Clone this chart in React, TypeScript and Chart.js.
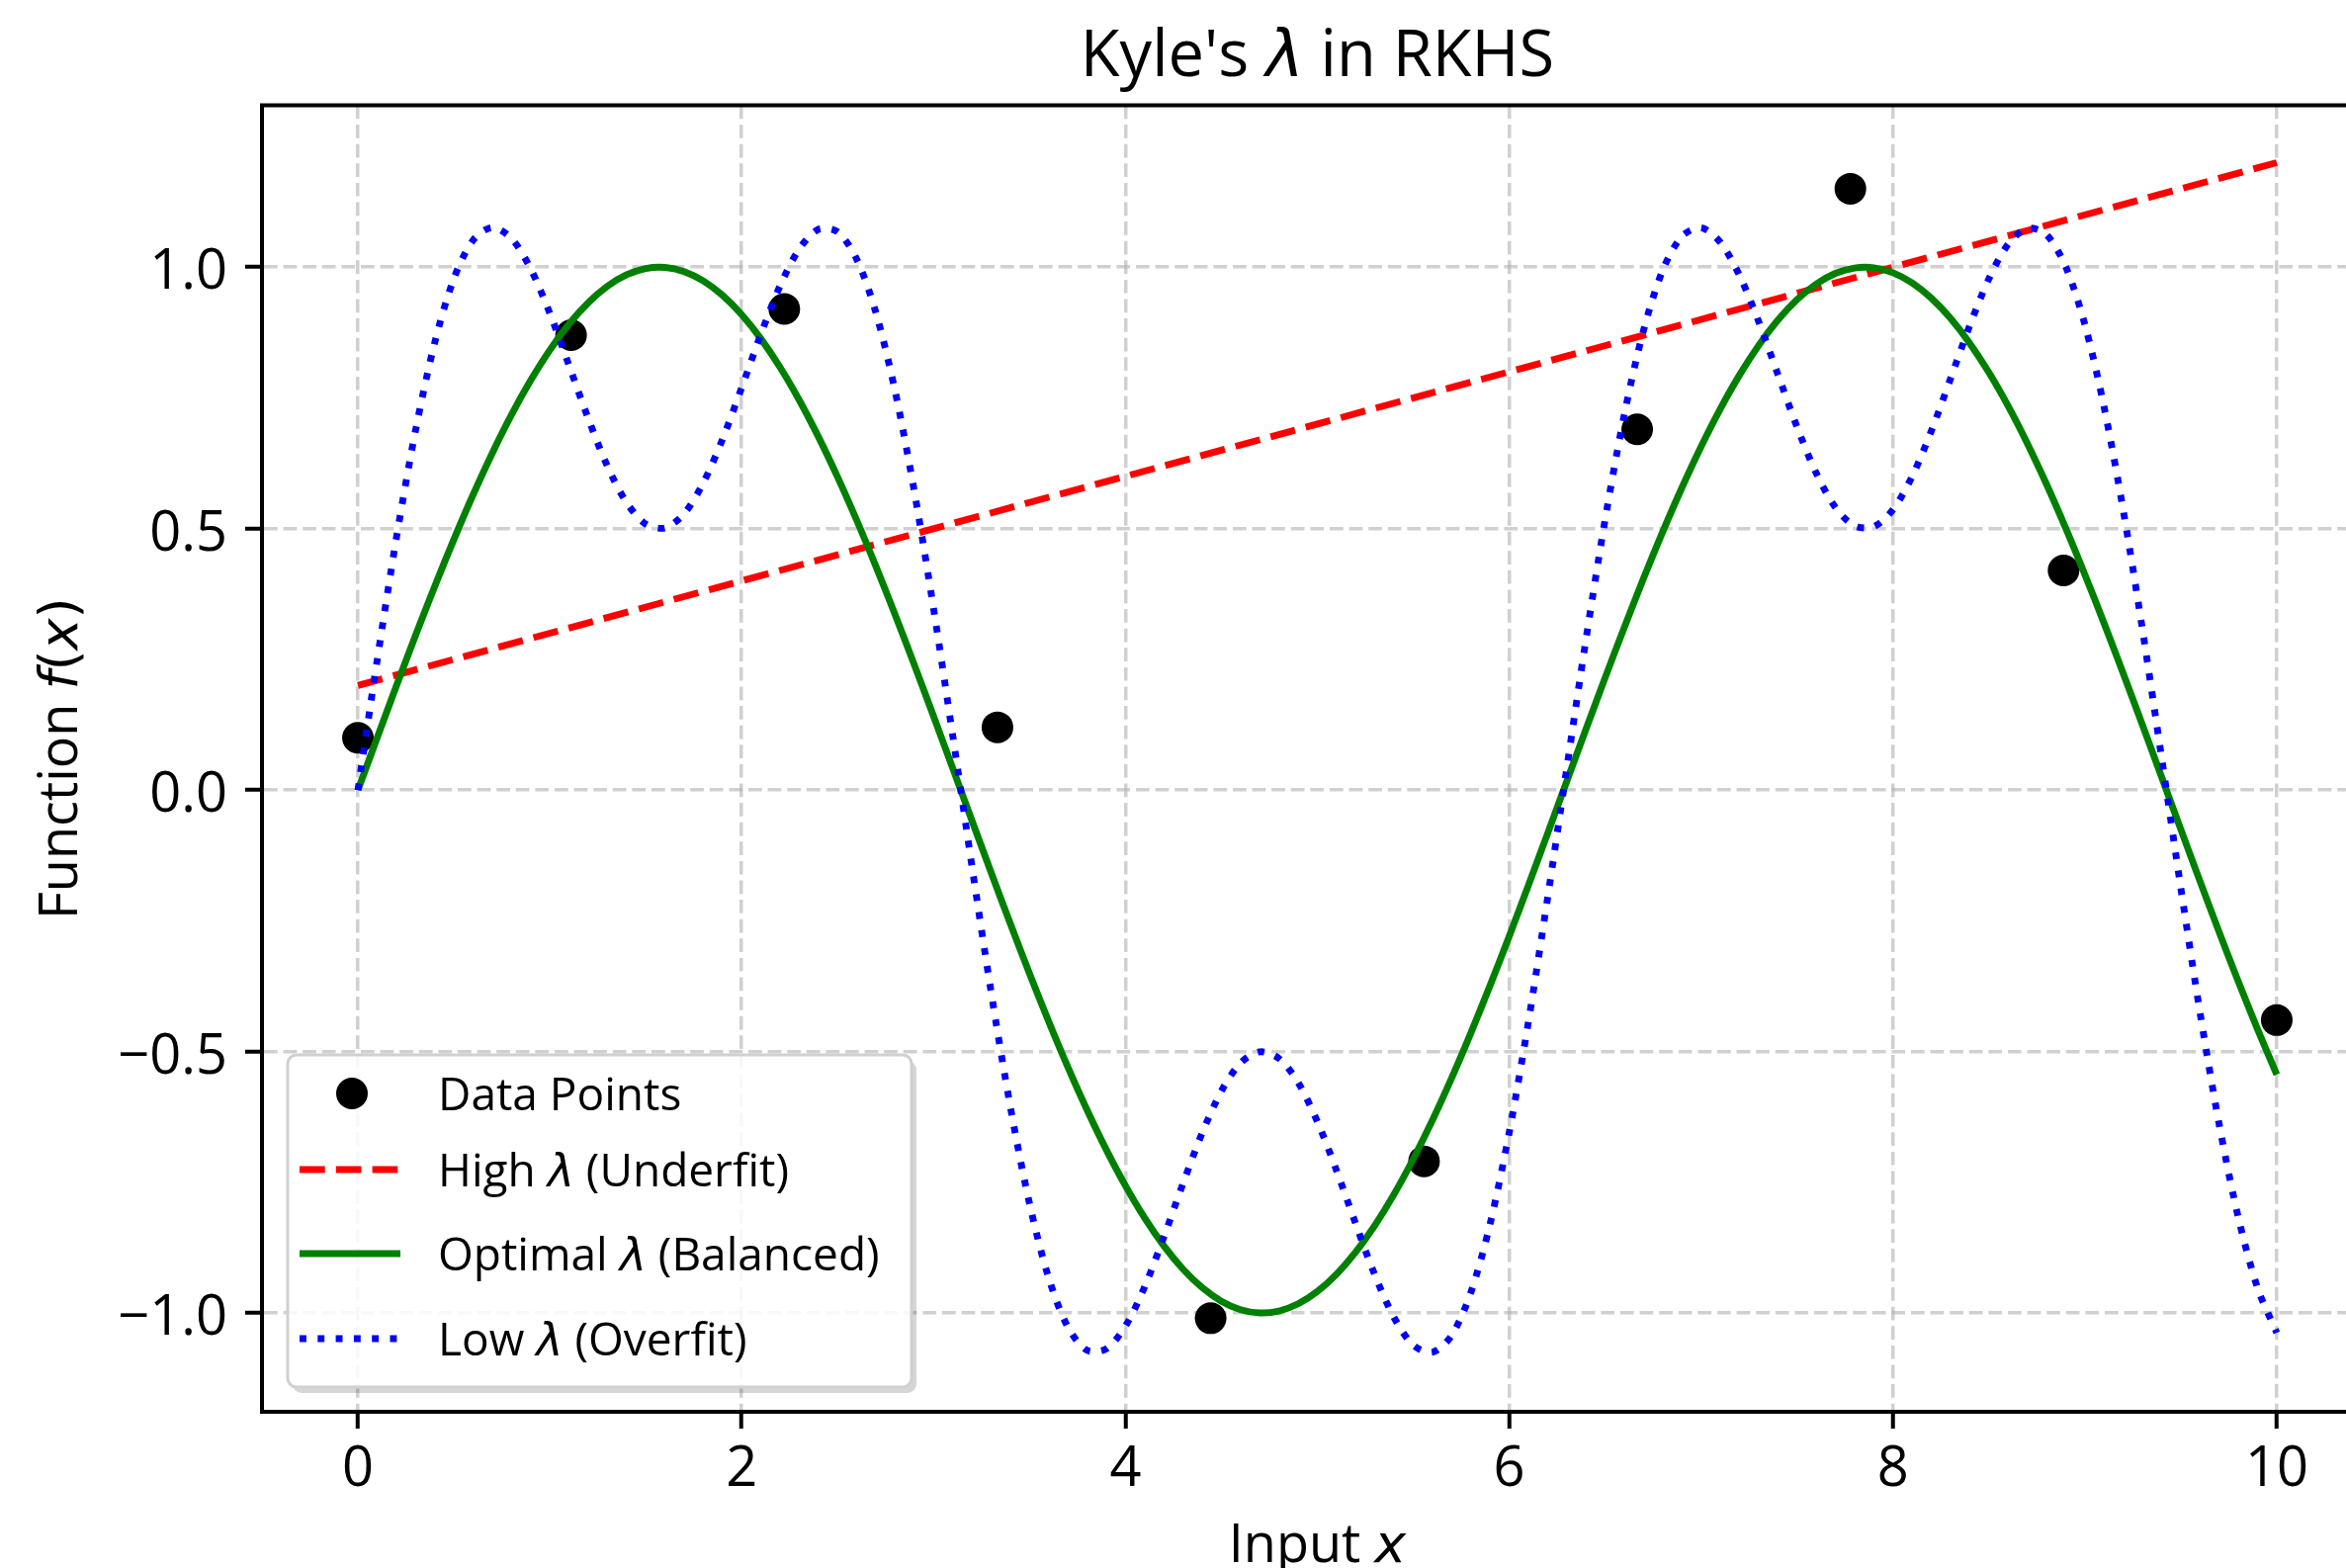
import React, { useEffect, useRef } from 'react';
import { Chart, registerables } from 'chart.js';

Chart.register(...registerables);

// ---------- data ----------
const TITLE = "Kyle's $λ$ in RKHS";
const X_TITLE = 'Input $x$';
const Y_TITLE = 'Function $f(x)$';

const xTickValues = [0, 2, 4, 6, 8, 10];
const yTickValues = [-1, -0.5, 0, 0.5, 1];
const X_MIN = -0.5;
const X_MAX = 10.5;
const Y_MIN = -1.189;
const Y_MAX = 1.3096;

const pointX = [0, 1.111, 2.222, 3.333, 4.444, 5.556, 6.667, 7.778, 8.889, 10];
const pointY = [0.1, 0.87, 0.92, 0.12, -1.01, -0.71, 0.69, 1.15, 0.42, -0.44];

const highX = [0, 10];
const highY = [0.2, 1.2];

const curveX = [
  0, 0.1, 0.2, 0.3, 0.4, 0.5, 0.6, 0.7, 0.8, 0.9,
  1, 1.1, 1.2, 1.3, 1.4, 1.5, 1.6, 1.7, 1.8, 1.9,
  2, 2.1, 2.2, 2.3, 2.4, 2.5, 2.6, 2.7, 2.8, 2.9,
  3, 3.1, 3.2, 3.3, 3.4, 3.5, 3.6, 3.7, 3.8, 3.9,
  4, 4.1, 4.2, 4.3, 4.4, 4.5, 4.6, 4.7, 4.8, 4.9,
  5, 5.1, 5.2, 5.3, 5.4, 5.5, 5.6, 5.7, 5.8, 5.9,
  6, 6.1, 6.2, 6.3, 6.4, 6.5, 6.6, 6.7, 6.8, 6.9,
  7, 7.1, 7.2, 7.3, 7.4, 7.5, 7.6, 7.7, 7.8, 7.9,
  8, 8.1, 8.2, 8.3, 8.4, 8.5, 8.6, 8.7, 8.8, 8.9,
  9, 9.1, 9.2, 9.3, 9.4, 9.5, 9.6, 9.7, 9.8, 9.9,
  10,
];

const optimalY = [
  0.0, 0.0998, 0.1987, 0.2955, 0.3894, 0.4794, 0.5646, 0.6442, 0.7174, 0.7833,
  0.8415, 0.8912, 0.932, 0.9636, 0.9854, 0.9975, 0.9996, 0.9917, 0.9738, 0.9463,
  0.9093, 0.8632, 0.8085, 0.7457, 0.6755, 0.5985, 0.5155, 0.4274, 0.335, 0.2392,
  0.1411, 0.0416, -0.0584, -0.1577, -0.2555, -0.3508, -0.4425, -0.5298, -0.6119, -0.6878,
  -0.7568, -0.8183, -0.8716, -0.9162, -0.9516, -0.9775, -0.9937, -0.9999, -0.9962, -0.9825,
  -0.9589, -0.9258, -0.8835, -0.8323, -0.7728, -0.7055, -0.6313, -0.5507, -0.4646, -0.3739,
  -0.2794, -0.1822, -0.0831, 0.0168, 0.1165, 0.2151, 0.3115, 0.4048, 0.4941, 0.5784,
  0.657, 0.729, 0.7937, 0.8504, 0.8987, 0.938, 0.9679, 0.9882, 0.9985, 0.9989,
  0.9894, 0.9699, 0.9407, 0.9022, 0.8546, 0.7985, 0.7344, 0.663, 0.5849, 0.501,
  0.4121, 0.3191, 0.2229, 0.1245, 0.0248, -0.0752, -0.1743, -0.2718, -0.3665, -0.4575,
  -0.544,
];

const lowY = [
  0.0, 0.2475, 0.4811, 0.6872, 0.8554, 0.9782, 1.0516, 1.0758, 1.0551, 0.997,
  0.912, 0.8124, 0.7109, 0.6195, 0.5498, 0.5087, 0.5014, 0.5286, 0.5876, 0.671,
  0.7696, 0.8716, 0.9643, 1.0349, 1.0723, 1.0675, 1.0148, 0.9124, 0.7623, 0.5706,
  0.3471, 0.1039, -0.1456, -0.3864, -0.6054, -0.7907, -0.933, -1.0271, -1.0715, -1.0687,
  -1.0251, -0.9499, -0.8547, -0.7524, -0.6556, -0.5757, -0.5218, -0.5004, -0.5132, -0.5594,
  -0.6339, -0.7275, -0.8295, -0.9277, -1.0089, -1.0615, -1.0751, -1.0427, -0.9609, -0.8302,
  -0.6549, -0.4434, -0.2066, 0.042, 0.2881, 0.5178, 0.7183, 0.8793, 0.994, 1.059,
  1.0753, 1.0477, 0.9843, 0.896, 0.7951, 0.6944, 0.6062, 0.5405, 0.5052, 0.5038,
  0.5364, 0.6, 0.6869, 0.7868, 0.8882, 0.978, 1.0438, 1.0746, 1.0621, 1.001,
  0.8903, 0.7328, 0.5351, 0.3074, 0.062, -0.1871, -0.4252, -0.6393, -0.8178, -0.9522,
  -1.038,
];

const seriesLabels = ['Data Points', 'High $λ$ (Underfit)', 'Optimal $λ$ (Balanced)', 'Low $λ$ (Overfit)'];
const seriesColors = ['#000000', '#ff0000', '#008000', '#0000ff'];

// ---------- layout / style ----------
const W = 2440;
const H = 1586;
const PLOT_TOP = 106.5;
const PLOT_BOTTOM = 1428;
const PLOT_LEFT = 265;
const PLOT_RIGHT = 2400;
const FONT = "'Open Sans', sans-serif";
const MATH = "'DejaVu Sans'";
const LW = 6.9;
const GRID = 'rgba(176,176,176,0.6)';

type Seg = { t: string; kind: 'text' | 'mi' | 'mo' };

function parseRich(s: string): Seg[] {
  const out: Seg[] = [];
  s.split('$').forEach((p, i) => {
    if (!p) return;
    if (i % 2 === 0) out.push({ t: p, kind: 'text' });
    else for (const ch of p) out.push({ t: ch, kind: /[A-Za-z\u0370-\u03FF]/.test(ch) ? 'mi' : 'mo' });
  });
  return out;
}

function fontFor(kind: Seg['kind'], size: number) {
  if (kind === 'text') return `${size}px ${FONT}`;
  if (kind === 'mi') return `italic ${size}px ${MATH}`;
  return `${size}px ${MATH}`;
}

function drawRich(ctx: CanvasRenderingContext2D, s: string, x: number, y: number, size: number, align: 'left' | 'center') {
  const segs = parseRich(s);
  const widths = segs.map((g) => {
    ctx.font = fontFor(g.kind, size);
    return ctx.measureText(g.t).width;
  });
  const total = widths.reduce((a, b) => a + b, 0);
  let cx = align === 'center' ? x - total / 2 : x;
  ctx.textAlign = 'left';
  ctx.textBaseline = 'alphabetic';
  segs.forEach((g, i) => {
    ctx.font = fontFor(g.kind, size);
    ctx.fillText(g.t, cx, y);
    cx += widths[i];
  });
}

function roundRectPath(ctx: CanvasRenderingContext2D, x: number, y: number, w: number, h: number, r: number) {
  ctx.moveTo(x + r, y);
  ctx.lineTo(x + w - r, y);
  ctx.arcTo(x + w, y, x + w, y + r, r);
  ctx.lineTo(x + w, y + h - r);
  ctx.arcTo(x + w, y + h, x + w - r, y + h, r);
  ctx.lineTo(x + r, y + h);
  ctx.arcTo(x, y + h, x, y + h - r, r);
  ctx.lineTo(x, y + r);
  ctx.arcTo(x, y, x + r, y, r);
  ctx.closePath();
}

const decorPlugin = {
  id: 'decor',
  afterDraw(chart: any) {
    const ctx: CanvasRenderingContext2D = chart.ctx;
    const a = chart.chartArea;
    ctx.save();
    // top / right spines
    ctx.strokeStyle = '#000';
    ctx.lineWidth = 4;
    ctx.setLineDash([]);
    ctx.beginPath();
    ctx.moveTo(a.left - 2, a.top);
    ctx.lineTo(a.right + 2, a.top);
    ctx.moveTo(a.right, a.top);
    ctx.lineTo(a.right, a.bottom);
    ctx.stroke();

    // titles
    ctx.fillStyle = '#000';
    const cx = (a.left + a.right) / 2;
    drawRich(ctx, TITLE, cx, 77, 65, 'center');
    drawRich(ctx, X_TITLE, cx, 1580, 54, 'center');
    ctx.save();
    ctx.translate(78, (a.top + a.bottom) / 2);
    ctx.rotate(-Math.PI / 2);
    drawRich(ctx, Y_TITLE, 0, 0, 54, 'center');
    ctx.restore();

    // legend
    const bx = 291, by = 1067, bw = 631, bh = 336, r = 9;
    ctx.save();
    ctx.beginPath();
    ctx.rect(0, 0, W, H);
    roundRectPath(ctx, bx, by, bw, bh, r);
    ctx.clip('evenodd');
    ctx.fillStyle = 'rgba(0,0,0,0.16)';
    ctx.beginPath();
    roundRectPath(ctx, bx + 5, by + 6, bw, bh, r);
    ctx.fill();
    ctx.restore();

    ctx.beginPath();
    roundRectPath(ctx, bx, by, bw, bh, r);
    ctx.fillStyle = 'rgba(255,255,255,0.85)';
    ctx.fill();
    ctx.strokeStyle = '#d0d0d0';
    ctx.lineWidth = 3;
    ctx.stroke();

    const rows = [1106, 1183, 1268, 1354];
    const ds = chart.data.datasets;
    ds.forEach((d: any, i: number) => {
      const y = rows[i];
      if (i === 0) {
        ctx.fillStyle = d.backgroundColor;
        ctx.beginPath();
        ctx.arc(356, y, 16, 0, Math.PI * 2);
        ctx.fill();
      } else {
        ctx.strokeStyle = d.borderColor;
        ctx.lineWidth = d.borderWidth;
        ctx.lineCap = 'butt';
        ctx.setLineDash(d.borderDash || []);
        ctx.beginPath();
        ctx.moveTo(303, y);
        ctx.lineTo(405, y);
        ctx.stroke();
        ctx.setLineDash([]);
      }
      ctx.fillStyle = '#000';
      drawRich(ctx, d.label, 443, y + 16.5, 46, 'left');
    });
    ctx.restore();
  },
};

const fmtY = (v: number) => v.toFixed(1).replace('-', '\u2212');
const fmtX = (v: number) => String(v);

export default function App() {
  const ref = useRef<HTMLCanvasElement>(null);

  useEffect(() => {
    const canvas = ref.current;
    if (!canvas) return;
    const pts = pointX.map((x, i) => ({ x, y: pointY[i] }));
    const high = highX.map((x, i) => ({ x, y: highY[i] }));
    const opt = curveX.map((x, i) => ({ x, y: optimalY[i] }));
    const low = curveX.map((x, i) => ({ x, y: lowY[i] }));

    const chart = new Chart(canvas, {
      type: 'scatter',
      data: {
        datasets: [
          {
            label: seriesLabels[0],
            data: pts,
            backgroundColor: seriesColors[0],
            borderColor: seriesColors[0],
            pointRadius: 16,
            pointHoverRadius: 16,
            pointBorderWidth: 0,
            showLine: false,
            order: 4,
          },
          {
            label: seriesLabels[1],
            data: high,
            showLine: true,
            borderColor: seriesColors[1],
            backgroundColor: seriesColors[1],
            borderWidth: LW,
            borderDash: [25.7, 11.1],
            borderCapStyle: 'butt',
            pointRadius: 0,
            pointHoverRadius: 0,
            fill: false,
            order: 3,
          },
          {
            label: seriesLabels[2],
            data: opt,
            showLine: true,
            borderColor: seriesColors[2],
            backgroundColor: seriesColors[2],
            borderWidth: LW,
            pointRadius: 0,
            pointHoverRadius: 0,
            tension: 0.3,
            fill: false,
            order: 2,
          },
          {
            label: seriesLabels[3],
            data: low,
            showLine: true,
            borderColor: seriesColors[3],
            backgroundColor: seriesColors[3],
            borderWidth: LW,
            borderDash: [6.9, 11.4],
            borderCapStyle: 'butt',
            pointRadius: 0,
            pointHoverRadius: 0,
            tension: 0.3,
            fill: false,
            order: 1,
          },
        ],
      } as any,
      options: {
        responsive: false,
        maintainAspectRatio: false,
        animation: false,
        devicePixelRatio: 1,
        events: [],
        layout: { padding: { top: PLOT_TOP, right: W - PLOT_RIGHT, bottom: 0, left: 0 } },
        plugins: {
          legend: { display: false },
          title: { display: false },
          tooltip: { enabled: false },
        },
        scales: {
          x: {
            type: 'linear',
            min: X_MIN,
            max: X_MAX,
            afterFit: (s: any) => {
              s.height = H - PLOT_BOTTOM;
            },
            afterBuildTicks: (s: any) => {
              s.ticks = xTickValues.map((v) => ({ value: v }));
            },
            ticks: {
              font: { family: FONT, size: 56 },
              color: '#000',
              padding: 8,
              maxRotation: 0,
              autoSkip: false,
              callback: (v: any) => fmtX(Number(v)),
            },
            grid: { color: GRID, lineWidth: 3.5, tickColor: '#000', tickWidth: 4, tickLength: 17 },
            border: { display: true, color: '#000', width: 4, dash: [13.7, 5.9] },
          },
          y: {
            type: 'linear',
            min: Y_MIN,
            max: Y_MAX,
            afterFit: (s: any) => {
              s.width = PLOT_LEFT;
            },
            afterBuildTicks: (s: any) => {
              s.ticks = yTickValues.map((v) => ({ value: v }));
            },
            ticks: {
              font: { family: FONT, size: 56 },
              color: '#000',
              padding: 18,
              labelOffset: 6,
              autoSkip: false,
              callback: (v: any) => fmtY(Number(v)),
            },
            grid: { color: GRID, lineWidth: 3.5, tickColor: '#000', tickWidth: 4, tickLength: 17 },
            border: { display: true, color: '#000', width: 4, dash: [13.7, 5.9] },
          },
        },
      } as any,
      plugins: [decorPlugin],
    });
    return () => chart.destroy();
  }, []);

  return (
    <div
      style={{
        position: 'fixed',
        left: 0,
        top: 0,
        width: 2373,
        height: 1586,
        overflow: 'hidden',
        background: '#fff',
      }}
    >
      <canvas ref={ref} width={W} height={H} style={{ display: 'block', width: W, height: H }} />
    </div>
  );
}
